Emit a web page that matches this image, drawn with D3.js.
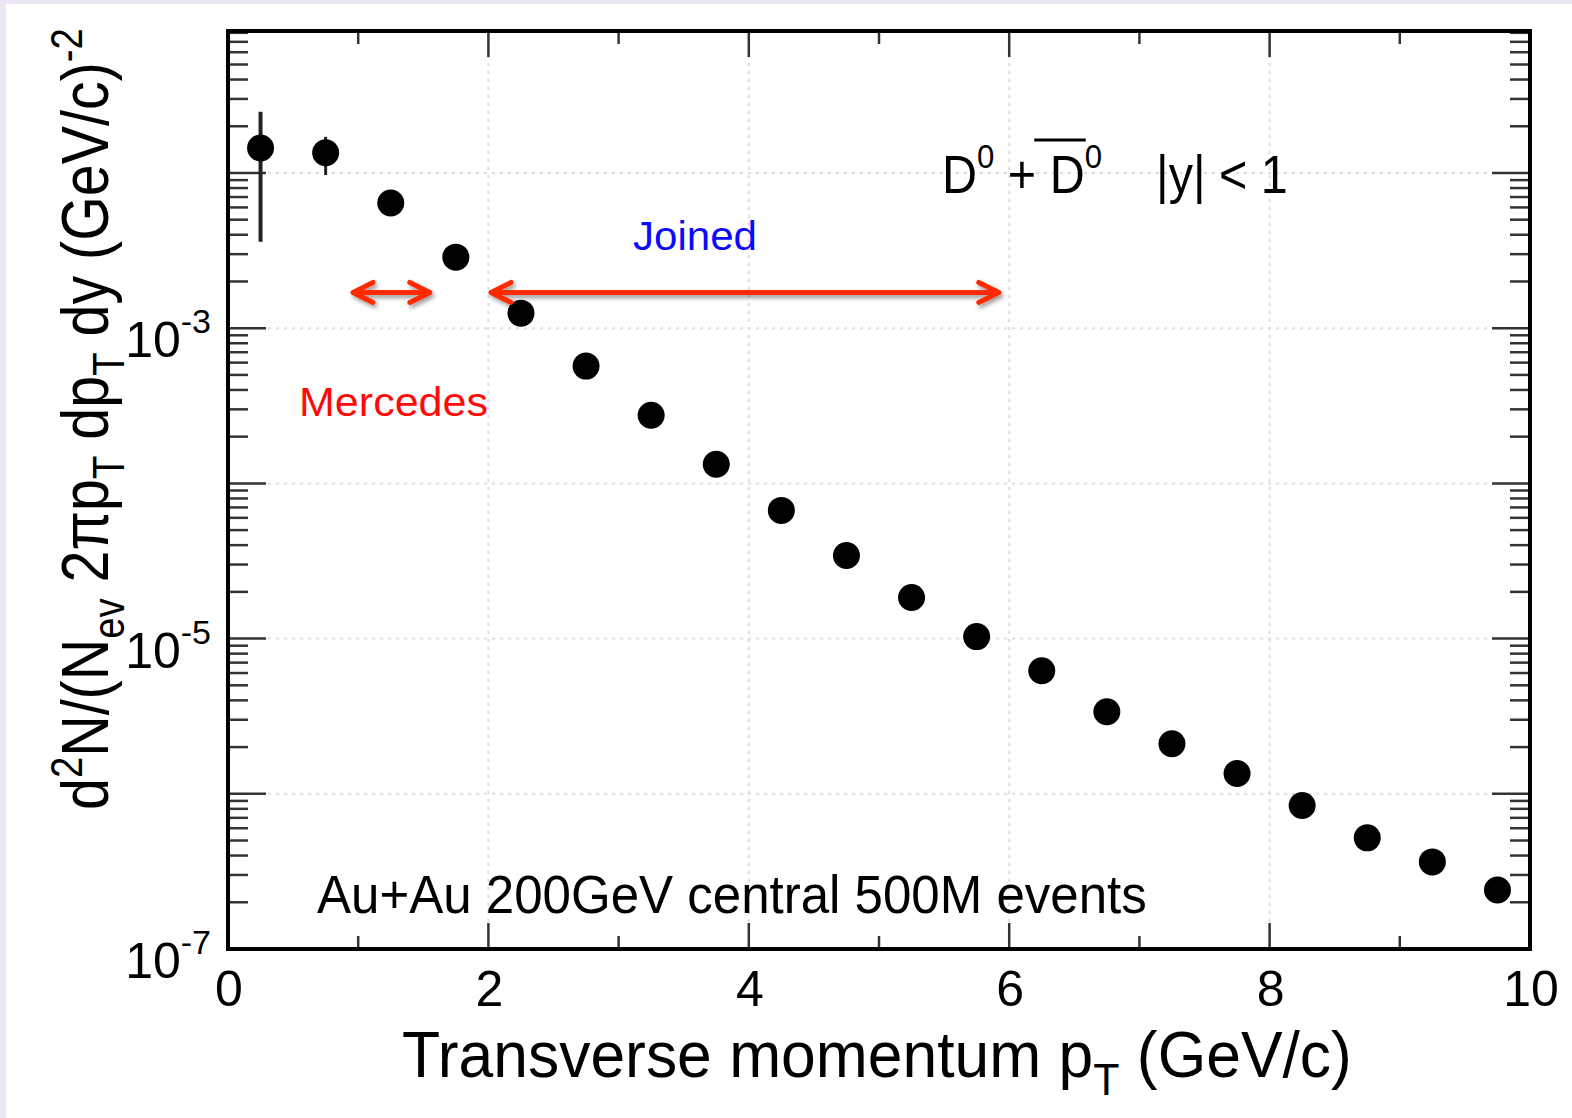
<!DOCTYPE html>
<html>
<head>
<meta charset="utf-8">
<script src="https://cdn.jsdelivr.net/npm/d3@7/dist/d3.min.js"></script>
<style>
html, body { margin: 0; padding: 0; background: #fff; }
svg { display: block; }
text { font-family: "Liberation Sans", Arial, Helvetica, sans-serif; fill: #000; }
</style>
</head>
<body>
<div id="chart"></div>
<script>
// D0 spectrum, Au+Au 200 GeV
var ptBins = [0.25, 0.75, 1.25, 1.75, 2.25, 2.75, 3.25, 3.75, 4.25, 4.75,
              5.25, 5.75, 6.25, 6.75, 7.25, 7.75, 8.25, 8.75, 9.25, 9.75];
var yields = [1.45e-2, 1.35e-2, 6.4e-3, 2.87e-3, 1.25e-3, 5.7e-4, 2.75e-4, 1.33e-4, 6.7e-5, 3.43e-5,
              1.84e-5, 1.03e-5, 6.2e-6, 3.38e-6, 2.1e-6, 1.35e-6, 8.4e-7, 5.2e-7, 3.64e-7, 2.4e-7];
var yieldLow = [3.6e-3, 9.7e-3];
var yieldHigh = [2.48e-2, 1.71e-2];

var xMajor = [0, 2, 4, 6, 8, 10];
var xMinor = [1, 3, 5, 7, 9];
var yLabelPowers = [-3, -5, -7];

// pT ranges of the two annotation arrows
var arrowFrom = [0.96, 2.02];
var arrowTo = [1.55, 5.92];
var arrowLevel = 1.7e-3;

var width = 1572;
var height = 1118;
var frame = {left: 228, right: 1530, top: 31, bottom: 949};

var svg = d3.select('#chart').append('svg')
    .attr('width', width)
    .attr('height', height);

var defs = svg.append('defs');
var shadow = defs.append('filter')
    .attr('id', 'shadow')
    .attr('x', '-20%').attr('y', '-100%')
    .attr('width', '140%').attr('height', '300%');
shadow.append('feDropShadow')
    .attr('dx', 2).attr('dy', 3)
    .attr('stdDeviation', 2)
    .attr('flood-color', '#000')
    .attr('flood-opacity', 0.4);

svg.append('rect').attr('width', width).attr('height', height).attr('fill', '#fff');
svg.append('rect').attr('width', width).attr('height', 4).attr('fill', '#ebe6f1');
svg.append('rect').attr('width', 6).attr('height', height).attr('fill', '#ebe6f1');

var x = d3.scaleLinear().domain([0, 10]).range([frame.left, frame.right]);
var y = d3.scaleLog().domain([1e-7, 0.0822]).range([frame.bottom, frame.top]);

function isDecade(v) {
    var l = Math.log10(v);
    return Math.abs(l - Math.round(l)) < 1e-9;
}

// stretch a text horizontally so its ink spans [x0, x0 + w]
function fitWidth(sel, x0, w) {
    var bb = sel.node().getBBox();
    var k = w / bb.width;
    sel.attr('transform', 'translate(' + x0 + ',0) scale(' + k + ',1) translate(' + (-bb.x) + ',0)');
    return {k: k, bx: bb.x};
}

// grid
var yTicks = y.ticks().filter(function(v) { return v >= 1e-7 && v <= 0.0822; });
var yDecades = yTicks.filter(isDecade);

var grid = svg.append('g')
    .attr('stroke', '#dedede')
    .attr('stroke-width', 2)
    .attr('stroke-dasharray', '3,5');
grid.selectAll('.gx')
    .data(xMajor.filter(function(d) { return d > 0 && d < 10; }))
    .enter().append('line')
    .attr('x1', function(d) { return x(d); })
    .attr('x2', function(d) { return x(d); })
    .attr('y1', frame.top)
    .attr('y2', frame.bottom);
grid.selectAll('.gy')
    .data(yDecades.filter(function(d) { return d > 1e-7; }))
    .enter().append('line')
    .attr('x1', frame.left)
    .attr('x2', frame.right)
    .attr('y1', function(d) { return y(d); })
    .attr('y2', function(d) { return y(d); });

// ticks (inside the frame, on all four sides)
var ticks = svg.append('g').attr('stroke', '#333').attr('stroke-width', 2.5);
ticks.selectAll('.yl')
    .data(yTicks)
    .enter().append('line')
    .attr('x1', frame.left)
    .attr('x2', function(d) { return frame.left + (isDecade(d) ? 38 : 20); })
    .attr('y1', function(d) { return y(d); })
    .attr('y2', function(d) { return y(d); });
ticks.selectAll('.yr')
    .data(yTicks)
    .enter().append('line')
    .attr('x1', frame.right)
    .attr('x2', function(d) { return frame.right - (isDecade(d) ? 38 : 20); })
    .attr('y1', function(d) { return y(d); })
    .attr('y2', function(d) { return y(d); });

var xAll = xMajor.map(function(d) { return {v: d, len: 26}; })
    .concat(xMinor.map(function(d) { return {v: d, len: 13}; }));
ticks.selectAll('.xb')
    .data(xAll)
    .enter().append('line')
    .attr('x1', function(d) { return x(d.v); })
    .attr('x2', function(d) { return x(d.v); })
    .attr('y1', frame.bottom)
    .attr('y2', function(d) { return frame.bottom - d.len; });
ticks.selectAll('.xt')
    .data(xAll)
    .enter().append('line')
    .attr('x1', function(d) { return x(d.v); })
    .attr('x2', function(d) { return x(d.v); })
    .attr('y1', frame.top)
    .attr('y2', function(d) { return frame.top + d.len; });

// frame
svg.append('rect')
    .attr('x', frame.left)
    .attr('y', frame.top)
    .attr('width', frame.right - frame.left)
    .attr('height', frame.bottom - frame.top)
    .attr('fill', 'none')
    .attr('stroke', '#000')
    .attr('stroke-width', 4);

// tick labels
svg.append('g').selectAll('text')
    .data(xMajor)
    .enter().append('text')
    .attr('x', function(d) { return x(d) + 1; })
    .attr('y', 1006)
    .attr('text-anchor', 'middle')
    .attr('font-size', 50)
    .text(function(d) { return d; });

var yLab = svg.append('g').selectAll('text')
    .data(yLabelPowers)
    .enter().append('text')
    .attr('x', 211)
    .attr('y', function(d) { return y(Math.pow(10, d)) + 29; })
    .attr('text-anchor', 'end')
    .attr('font-size', 50);
yLab.append('tspan').text('10');
yLab.append('tspan')
    .attr('dy', -24)
    .attr('font-size', 34)
    .text(function(d) { return d; });

// error bars and points
svg.append('g').selectAll('line')
    .data(yieldLow)
    .enter().append('line')
    .attr('x1', function(d, i) { return x(ptBins[i]); })
    .attr('x2', function(d, i) { return x(ptBins[i]); })
    .attr('y1', function(d) { return y(d); })
    .attr('y2', function(d, i) { return y(yieldHigh[i]); })
    .attr('stroke', '#222')
    .attr('stroke-width', function(d, i) { return i === 0 ? 4 : 3; });

svg.append('g').selectAll('circle')
    .data(yields)
    .enter().append('circle')
    .attr('cx', function(d, i) { return x(ptBins[i]); })
    .attr('cy', function(d) { return y(d); })
    .attr('r', 13.5)
    .attr('fill', '#000');

// axis titles
var xTitle = svg.append('text')
    .attr('x', 402)
    .attr('y', 1077)
    .attr('font-size', 64);
xTitle.append('tspan').text('Transverse momentum p');
xTitle.append('tspan').attr('dy', 18).attr('font-size', 44).text('T');
xTitle.append('tspan').attr('dy', -18).text(' (GeV/c)');
fitWidth(xTitle, 402, 950);

var yTitleG = svg.append('g').attr('transform', 'translate(108,810) rotate(-90)');
var yTitle = yTitleG.append('text').attr('x', 0).attr('y', 0).attr('font-size', 66)
    .style('white-space', 'pre');
yTitle.append('tspan').text('d');
yTitle.append('tspan').attr('dy', -26).attr('font-size', 44).text('2');
yTitle.append('tspan').attr('dy', 26).text('N/(N');
yTitle.append('tspan').attr('dy', 16).attr('font-size', 44).text('ev');
yTitle.append('tspan').attr('dy', -16).text(' 2\u03c0p');
yTitle.append('tspan').attr('dy', 16).attr('font-size', 44).text('T');
yTitle.append('tspan').attr('dy', -16).text(' dp');
yTitle.append('tspan').attr('dy', 16).attr('font-size', 44).text('T');
yTitle.append('tspan').attr('dy', -16).text(' dy (GeV/c)');
yTitle.append('tspan').attr('dy', -26).attr('font-size', 44).text('-2');
fitWidth(yTitle, 0, 782);

// labels inside the frame
var events = svg.append('text')
    .attr('x', 317)
    .attr('y', 913)
    .attr('font-size', 53)
    .text('Au+Au 200GeV central 500M events');
fitWidth(events, 317, 830);

var dLabel = svg.append('text')
    .attr('x', 942)
    .attr('y', 193)
    .attr('font-size', 53)
    .style('white-space', 'pre');
dLabel.append('tspan').text('D');
dLabel.append('tspan').attr('dy', -25).attr('font-size', 34).text('0');
dLabel.append('tspan').attr('dy', 25).text(' + D');
dLabel.append('tspan').attr('dy', -25).attr('font-size', 34).text('0');
dLabel.append('tspan').attr('dy', 25).text('    |y| < 1');
var fit = fitWidth(dLabel, 942, 346);
var dBar0 = dLabel.node().getExtentOfChar(4);
var dBar1 = dLabel.node().getExtentOfChar(5);
function mapX(v) { return 942 + (v - fit.bx) * fit.k; }
svg.append('line')
    .attr('x1', mapX(dBar0.x) - 2)
    .attr('x2', mapX(dBar1.x + dBar1.width) + 1)
    .attr('y1', 140)
    .attr('y2', 140)
    .attr('stroke', '#000')
    .attr('stroke-width', 3);

var joined = svg.append('text')
    .attr('x', 633)
    .attr('y', 250)
    .attr('font-family', 'Lato, "Open Sans", sans-serif')
    .attr('font-size', 40)
    .style('fill', '#0a0aff')
    .text('Joined');
fitWidth(joined, 633, 124);

var mercedes = svg.append('text')
    .attr('x', 299)
    .attr('y', 416)
    .attr('font-family', 'Lato, "Open Sans", sans-serif')
    .attr('font-size', 40)
    .style('fill', '#ff0a0a')
    .text('Mercedes');
fitWidth(mercedes, 299, 189);

// double-headed arrows
var arrowY = y(arrowLevel);
var head = 20;
var spread = 10;
svg.append('g')
    .attr('filter', 'url(#shadow)')
    .selectAll('path')
    .data(arrowFrom)
    .enter().append('path')
    .attr('d', function(d, i) {
        var a = x(d);
        var b = x(arrowTo[i]);
        return 'M' + a + ',' + arrowY + 'L' + b + ',' + arrowY +
            'M' + (a + head) + ',' + (arrowY - spread) + 'L' + a + ',' + arrowY + 'L' + (a + head) + ',' + (arrowY + spread) +
            'M' + (b - head) + ',' + (arrowY - spread) + 'L' + b + ',' + arrowY + 'L' + (b - head) + ',' + (arrowY + spread);
    })
    .attr('fill', 'none')
    .attr('stroke', '#ff2a00')
    .attr('stroke-width', 5)
    .attr('stroke-linecap', 'round')
    .attr('stroke-linejoin', 'round');
</script>
</body>
</html>
